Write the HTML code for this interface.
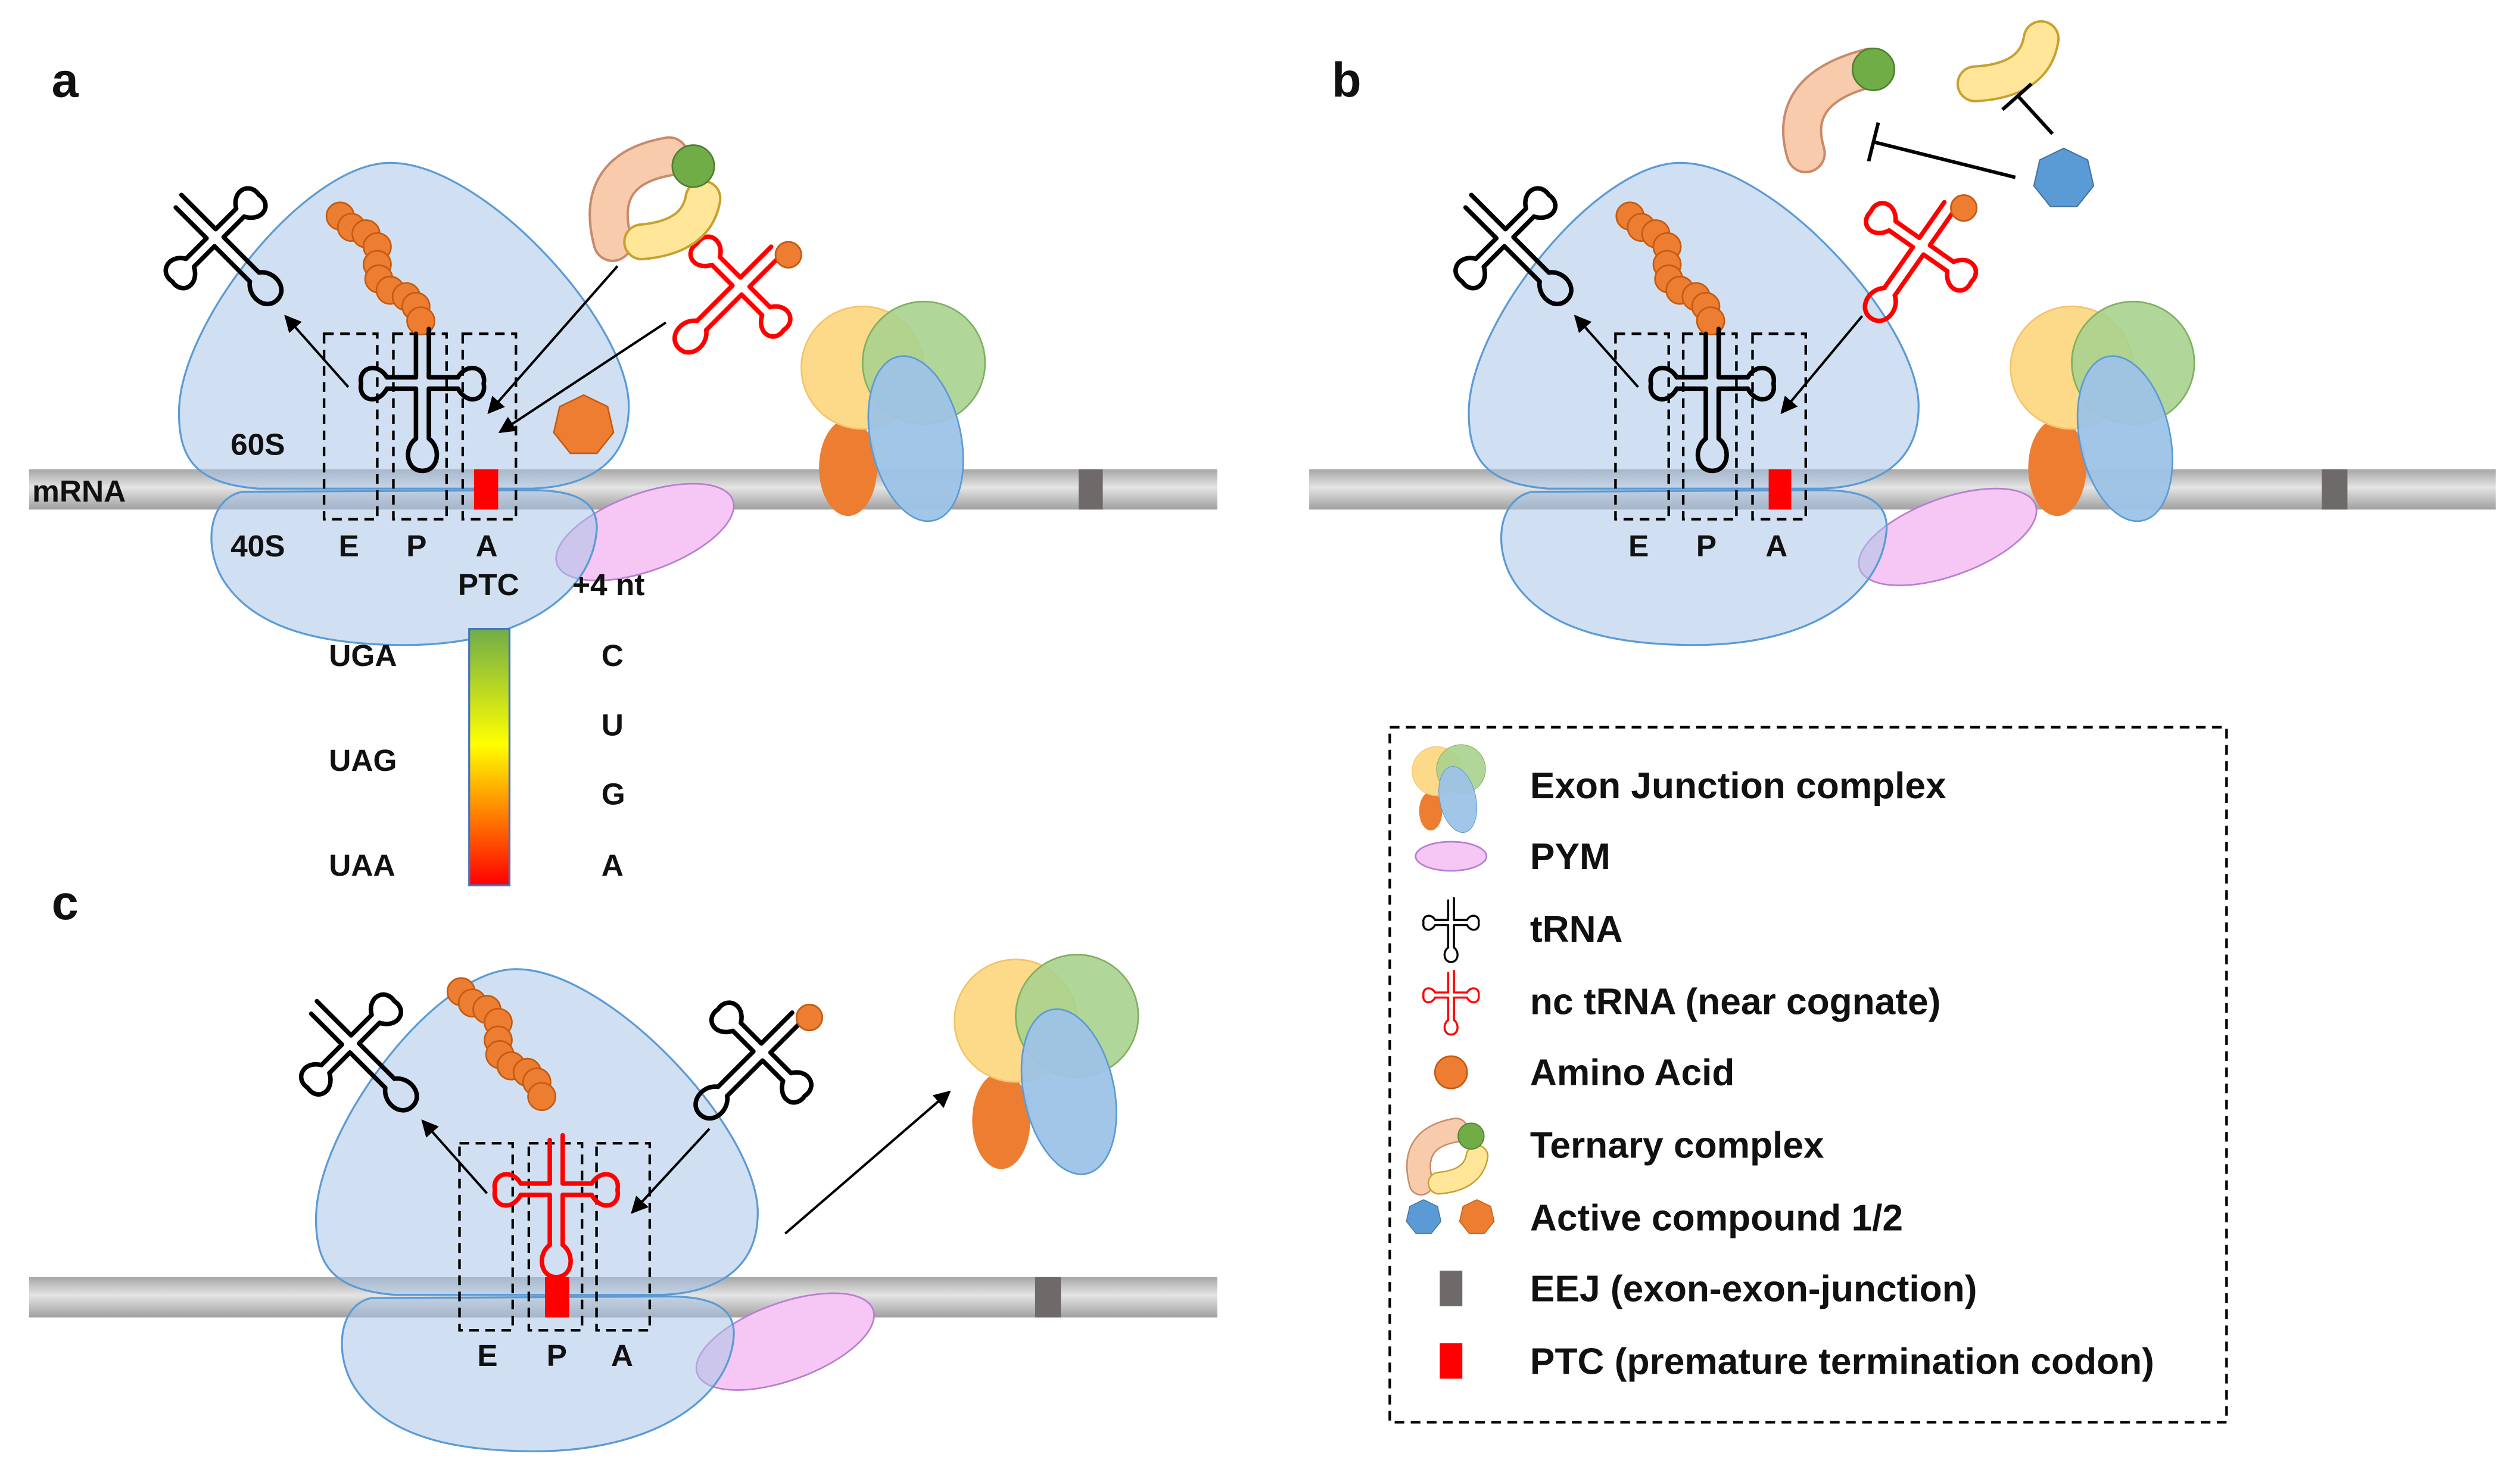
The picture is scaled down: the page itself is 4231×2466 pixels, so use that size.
<!DOCTYPE html>
<html><head><meta charset="utf-8"><style>
html,body{margin:0;padding:0;background:#fff}
svg{display:block}
text{font-family:"Liberation Sans",sans-serif;font-weight:bold;fill:#111}
</style></head><body>
<svg width="4231" height="2466" viewBox="0 0 1563 911" preserveAspectRatio="none" xmlns="http://www.w3.org/2000/svg">
<defs>
<linearGradient id="mr" x1="0" y1="0" x2="0" y2="1">
<stop offset="0" stop-color="#a6a6a6"/><stop offset="0.45" stop-color="#e4e4e4"/><stop offset="1" stop-color="#a0a0a0"/>
</linearGradient>
<linearGradient id="cb" x1="0" y1="0" x2="0" y2="1">
<stop offset="0" stop-color="#70ad47"/><stop offset="0.45" stop-color="#ffff00"/><stop offset="1" stop-color="#ff0000"/>
</linearGradient>
<marker id="ah" viewBox="0 0 10 10" refX="9" refY="5" markerWidth="7" markerHeight="7" orient="auto">
<path d="M0,0 L10,5 L0,10 z" fill="#000"/></marker>
<g id="trna" fill="none" stroke="currentColor" stroke-width="2.8" stroke-linecap="round" stroke-linejoin="round">
<path d="M-4,-37 V-10 H-22 M4,-40 V-10 H22 M-4,-3 H-22 M4,-3 H22 M-4,-3 V28 M4,-3 V28"/>
<path d="M-22,-10 C-28,-20 -40,-16 -38,-6 C-40,4 -28,8 -22,-3"/>
<path d="M22,-10 C28,-20 40,-16 38,-6 C40,4 28,8 22,-3"/>
<path d="M-4,28 C-12,34 -10,48 0,48 C10,48 12,34 4,28"/>
</g>
<polygon id="hept" points="0,-1 0.782,-0.623 0.975,0.223 0.434,0.901 -0.434,0.901 -0.975,0.223 -0.782,-0.623"/>
<g id="tern">
<path d="M-30,35 Q-42,-10 5,-18" fill="none" stroke="#c98a6a" stroke-width="25" stroke-linecap="round"/>
<path d="M-30,35 Q-42,-10 5,-18" fill="none" stroke="#f8cbad" stroke-width="22" stroke-linecap="round"/>
<path d="M-12,35 Q22,32 26,8" fill="none" stroke="#c9a030" stroke-width="23" stroke-linecap="round"/>
<path d="M-12,35 Q22,32 26,8" fill="none" stroke="#ffe699" stroke-width="20" stroke-linecap="round"/>
<circle cx="20" cy="-12" r="13" fill="#70ad47" stroke="#507e32" stroke-width="1"/>
</g>
<g id="ejc">
<ellipse cx="-14" cy="40" rx="18" ry="30" fill="#ed7d31"/>
<circle cx="-5" cy="-22" r="38" fill="#fdd98a" stroke="#f3c46a" stroke-width="1"/>
<circle cx="33" cy="-25" r="38" fill="#a9d18e" fill-opacity="0.9" stroke="#80b060" stroke-width="1"/>
<ellipse cx="28" cy="22" rx="28" ry="52" transform="rotate(-12 28 22)" fill="#9dc3e6" fill-opacity="0.95" stroke="#5b9bd5" stroke-width="1"/>
</g>
</defs>

<!-- ===== Panel a ===== -->
<text x="32" y="60" font-size="30">a</text>
<rect x="18" y="291" width="737" height="25" fill="url(#mr)"/>
<rect x="669" y="291" width="15" height="25" fill="#6e6a6a"/>
<ellipse cx="400" cy="330" rx="58" ry="24" transform="rotate(-20 400 330)" fill="#f6c6f4" stroke="#b77fd0" stroke-width="1"/>
<path d="M242,101 C300,101 390,200 390,252 C390,290 360,302 330,303 L160,303 C122,300 111,285 111,256 C111,200 190,101 242,101 Z" fill="#a9c6e8" fill-opacity="0.55" stroke="#5b9bd5" stroke-width="1.2"/>
<path d="M150,305 C128,310 126,342 140,362 C162,394 210,400 252,400 C322,400 366,370 370,330 C372,310 355,304 330,304 Z" fill="#a9c6e8" fill-opacity="0.55" stroke="#5b9bd5" stroke-width="1.2"/>
<rect x="294" y="291" width="15" height="25" fill="#ff0000"/>
<g fill="none" stroke="#000" stroke-width="1.6" stroke-dasharray="6 4">
<rect x="201" y="207" width="33" height="115"/><rect x="244" y="207" width="33" height="115"/><rect x="287" y="207" width="33" height="115"/>
</g>
<g fill="#ed7d31" stroke="#c55a11" stroke-width="1">
<circle cx="211" cy="134" r="8.5"/><circle cx="218" cy="141" r="8.5"/><circle cx="227" cy="145" r="8.5"/><circle cx="234" cy="153" r="8.5"/><circle cx="234" cy="164" r="8.5"/><circle cx="235" cy="173" r="8.5"/><circle cx="242" cy="180" r="8.5"/><circle cx="252" cy="184" r="8.5"/><circle cx="258" cy="190" r="8.5"/><circle cx="261" cy="199" r="8.5"/>
</g>
<use href="#trna" transform="translate(262,244)" color="#000"/>
<use href="#trna" transform="translate(138,152) rotate(-45)" color="#000"/>
<use href="#trna" transform="translate(455,182) rotate(45)" color="#ff0000"/>
<circle cx="489" cy="158" r="8" fill="#ed7d31" stroke="#c55a11"/>
<use href="#hept" transform="translate(362,264) scale(19)" fill="#ed7d31" stroke="#c55a11" stroke-width="0.05"/>
<use href="#tern" transform="translate(410,115)"/>
<use href="#ejc" transform="translate(540,250)"/>
<g stroke="#000" stroke-width="1.5" marker-end="url(#ah)">
<line x1="216" y1="240" x2="177" y2="196"/>
<line x1="383" y1="165" x2="303" y2="256"/>
<line x1="413" y1="200" x2="310" y2="268"/>
</g>
<g font-size="19">
<text x="143" y="282">60S</text>
<text x="20" y="311">mRNA</text>
<text x="143" y="345">40S</text>
<text x="210" y="345">E</text><text x="252" y="345">P</text><text x="295" y="345">A</text>
<text x="284" y="369">PTC</text><text x="355" y="369">+4 nt</text>
<text x="204" y="413">UGA</text><text x="204" y="478">UAG</text><text x="204" y="543">UAA</text>
<text x="373" y="413">C</text><text x="373" y="456">U</text><text x="373" y="499">G</text><text x="373" y="543">A</text>
</g>
<rect x="291" y="390" width="25" height="159" fill="url(#cb)" stroke="#4472c4" stroke-width="1.2"/>

<!-- ===== Panel b ===== -->
<text x="826" y="60" font-size="30">b</text>
<rect x="812" y="291" width="736" height="25" fill="url(#mr)"/>
<rect x="1440" y="291" width="16" height="25" fill="#6e6a6a"/>
<ellipse cx="1208" cy="333" rx="58" ry="24" transform="rotate(-20 1208 333)" fill="#f6c6f4" stroke="#b77fd0" stroke-width="1"/>
<g transform="translate(800,0)">
<path d="M242,101 C300,101 390,200 390,252 C390,290 360,302 330,303 L160,303 C122,300 111,285 111,256 C111,200 190,101 242,101 Z" fill="#a9c6e8" fill-opacity="0.55" stroke="#5b9bd5" stroke-width="1.2"/>
<path d="M150,305 C128,310 126,342 140,362 C162,394 210,400 252,400 C322,400 366,370 370,330 C372,310 355,304 330,304 Z" fill="#a9c6e8" fill-opacity="0.55" stroke="#5b9bd5" stroke-width="1.2"/>
<rect x="297" y="291" width="14" height="25" fill="#ff0000"/>
<g fill="none" stroke="#000" stroke-width="1.6" stroke-dasharray="6 4">
<rect x="202" y="207" width="33" height="115"/><rect x="244" y="207" width="33" height="115"/><rect x="287" y="207" width="33" height="115"/>
</g>
<g fill="#ed7d31" stroke="#c55a11" stroke-width="1">
<circle cx="211" cy="134" r="8.5"/><circle cx="218" cy="141" r="8.5"/><circle cx="227" cy="145" r="8.5"/><circle cx="234" cy="153" r="8.5"/><circle cx="234" cy="164" r="8.5"/><circle cx="235" cy="173" r="8.5"/><circle cx="242" cy="180" r="8.5"/><circle cx="252" cy="184" r="8.5"/><circle cx="258" cy="190" r="8.5"/><circle cx="261" cy="199" r="8.5"/>
</g>
<use href="#trna" transform="translate(262,244)" color="#000"/>
<use href="#trna" transform="translate(138,152) rotate(-45)" color="#000"/>
<g stroke="#000" stroke-width="1.5" marker-end="url(#ah)">
<line x1="216" y1="240" x2="177" y2="196"/>
<line x1="355" y1="196" x2="305" y2="256"/>
</g>
<text x="210" y="345" font-size="19">E</text><text x="252" y="345" font-size="19">P</text><text x="295" y="345" font-size="19">A</text>
</g>
<use href="#trna" transform="translate(1188,158) rotate(35)" color="#ff0000"/>
<circle cx="1218" cy="129" r="8" fill="#ed7d31" stroke="#c55a11"/>
<use href="#ejc" transform="translate(1290,250)"/>
<g transform="translate(1140,70)">
<path d="M-20,25 Q-32,-15 20,-28" fill="none" stroke="#c98a6a" stroke-width="25" stroke-linecap="round"/>
<path d="M-20,25 Q-32,-15 20,-28" fill="none" stroke="#f8cbad" stroke-width="22" stroke-linecap="round"/>
<circle cx="22" cy="-27" r="13" fill="#70ad47" stroke="#507e32"/>
</g>
<path d="M1225,52 Q1262,50 1266,24" fill="none" stroke="#c9a030" stroke-width="23" stroke-linecap="round"/>
<path d="M1225,52 Q1262,50 1266,24" fill="none" stroke="#ffe699" stroke-width="20" stroke-linecap="round"/>
<use href="#hept" transform="translate(1280,111) scale(19)" fill="#5b9bd5" stroke="#41719c" stroke-width="0.04"/>
<g stroke="#000" stroke-width="2.2">
<line x1="1250" y1="110" x2="1162" y2="88"/><line x1="1165" y1="76" x2="1159" y2="100"/>
<line x1="1273" y1="83" x2="1252" y2="60"/><line x1="1242" y1="68" x2="1260" y2="52"/>
</g>

<!-- ===== Panel c ===== -->
<text x="32" y="570" font-size="30">c</text>
<rect x="18" y="792" width="737" height="25" fill="url(#mr)"/>
<rect x="642" y="792" width="16" height="25" fill="#6e6a6a"/>
<ellipse cx="487" cy="832" rx="58" ry="24" transform="rotate(-20 487 832)" fill="#f6c6f4" stroke="#b77fd0" stroke-width="1"/>
<g transform="translate(85,500)">
<path d="M235,101 C293,101 385,200 385,252 C385,290 355,302 325,303 L160,303 C122,300 111,285 111,256 C111,200 185,101 235,101 Z" fill="#a9c6e8" fill-opacity="0.55" stroke="#5b9bd5" stroke-width="1.2"/>
<path d="M145,305 C124,310 122,342 136,362 C158,394 205,400 247,400 C317,400 366,370 370,330 C372,310 355,304 330,304 Z" fill="#a9c6e8" fill-opacity="0.55" stroke="#5b9bd5" stroke-width="1.2"/>
</g>
<rect x="338" y="792" width="15" height="25" fill="#ff0000"/>
<g fill="none" stroke="#000" stroke-width="1.6" stroke-dasharray="6 4">
<rect x="285" y="709" width="33" height="116"/><rect x="328" y="709" width="33" height="116"/><rect x="370" y="709" width="33" height="116"/>
</g>
<g fill="#ed7d31" stroke="#c55a11" stroke-width="1" transform="translate(75,481)">
<circle cx="211" cy="134" r="8.5"/><circle cx="218" cy="141" r="8.5"/><circle cx="227" cy="145" r="8.5"/><circle cx="234" cy="153" r="8.5"/><circle cx="234" cy="164" r="8.5"/><circle cx="235" cy="173" r="8.5"/><circle cx="242" cy="180" r="8.5"/><circle cx="252" cy="184" r="8.5"/><circle cx="258" cy="190" r="8.5"/><circle cx="261" cy="199" r="8.5"/>
</g>
<use href="#trna" transform="translate(345,744)" color="#ff0000"/>
<use href="#trna" transform="translate(222,652) rotate(-45)" color="#000"/>
<use href="#trna" transform="translate(468,657) rotate(45)" color="#000"/>
<circle cx="502" cy="631" r="8" fill="#ed7d31" stroke="#c55a11"/>
<use href="#ejc" transform="translate(635,655)"/>
<g stroke="#000" stroke-width="1.5" marker-end="url(#ah)">
<line x1="302" y1="740" x2="262" y2="695"/>
<line x1="440" y1="700" x2="392" y2="752"/>
<line x1="487" y1="765" x2="589" y2="677"/>
</g>
<text x="296" y="847" font-size="19">E</text><text x="339" y="847" font-size="19">P</text><text x="379" y="847" font-size="19">A</text>

<!-- ===== Legend ===== -->
<rect x="862" y="451" width="519" height="431" fill="none" stroke="#000" stroke-width="1.6" stroke-dasharray="6 4"/>
<g transform="translate(899,487) scale(0.4)"><use href="#ejc" transform="translate(-15,0)"/></g>
<ellipse cx="900" cy="531" rx="22" ry="9" fill="#f6c6f4" stroke="#b77fd0" stroke-width="1"/>
<use href="#trna" transform="translate(900,575) scale(0.45)" color="#000"/>
<use href="#trna" transform="translate(900,620) scale(0.45)" color="#ff0000"/>
<circle cx="900" cy="665" r="10" fill="#ed7d31" stroke="#c55a11"/>
<use href="#tern" transform="translate(900,712) scale(0.62)"/>
<use href="#hept" transform="translate(883,755) scale(11)" fill="#5b9bd5" stroke="#41719c" stroke-width="0.05"/>
<use href="#hept" transform="translate(916,755) scale(11)" fill="#ed7d31" stroke="#c55a11" stroke-width="0.05"/>
<rect x="893" y="788" width="14" height="22" fill="#6e6a6a"/>
<rect x="893" y="833" width="14" height="22" fill="#ff0000"/>
<g font-size="23">
<text x="949" y="495">Exon Junction complex</text>
<text x="949" y="539">PYM</text>
<text x="949" y="584">tRNA</text>
<text x="949" y="629">nc tRNA (near cognate)</text>
<text x="949" y="673">Amino Acid</text>
<text x="949" y="718">Ternary complex</text>
<text x="949" y="763">Active compound 1/2</text>
<text x="949" y="807">EEJ (exon-exon-junction)</text>
<text x="949" y="852">PTC (premature termination codon)</text>
</g>
</svg>
</body></html>
